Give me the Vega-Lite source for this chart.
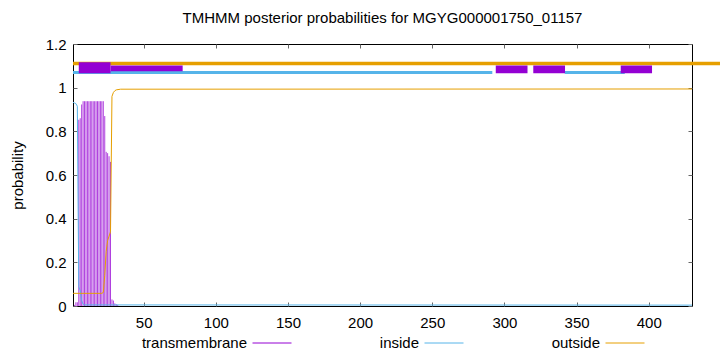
{
  "$schema": "https://vega.github.io/schema/vega-lite/v6.json",
  "width": 619,
  "height": 262,
  "autosize": "none",
  "padding": {"left": 73, "top": 44, "right": 28, "bottom": 46},
  "background": "white",
  "config": {
    "font": "Liberation Sans",
    "view": {"stroke": "black", "strokeWidth": 1},
    "axis": {"grid": false, "domain": false, "tickColor": "#666", "tickSize": -4, "labelFont": "Liberation Sans", "labelFontSize": 15, "labelColor": "black", "titleFont": "Liberation Sans", "titleFontSize": 15, "titleFontWeight": "normal", "titleColor": "black"},
    "legend": {"padding": 0, "labelFont": "Liberation Sans", "labelFontSize": 15, "labelColor": "black"}
  },
  "title": {"text": "TMHMM posterior probabilities for MGYG000001750_01157", "font": "Liberation Sans", "fontSize": 15, "fontWeight": "normal", "color": "black", "anchor": "middle", "offset": 11},
  "datasets": {
    "tm": [{"pos":2,"p":0.005},{"pos":3,"p":0.017},{"pos":4,"p":0.017},{"pos":5,"p":0.853},{"pos":6,"p":0.86},{"pos":7,"p":0.923},{"pos":8,"p":0.938},{"pos":9,"p":0.938},{"pos":10,"p":0.938},{"pos":11,"p":0.938},{"pos":12,"p":0.938},{"pos":13,"p":0.938},{"pos":14,"p":0.938},{"pos":15,"p":0.938},{"pos":16,"p":0.938},{"pos":17,"p":0.938},{"pos":18,"p":0.938},{"pos":19,"p":0.938},{"pos":20,"p":0.938},{"pos":21,"p":0.938},{"pos":22,"p":0.938},{"pos":23,"p":0.87},{"pos":24,"p":0.706},{"pos":25,"p":0.7},{"pos":26,"p":0.686},{"pos":27,"p":0.66},{"pos":28,"p":0.03},{"pos":29,"p":0.025},{"pos":30,"p":0.012},{"pos":31,"p":0.008},{"pos":32,"p":0.005}],
    "inside": [{"pos":1,"p":0.933},{"pos":2,"p":0.93},{"pos":3,"p":0.927},{"pos":4,"p":0.915},{"pos":5,"p":0.088},{"pos":6,"p":0.07},{"pos":7,"p":0.025},{"pos":8,"p":0.008},{"pos":9,"p":0.005},{"pos":430,"p":0.004}],
    "outside": [{"pos":1,"p":0.058},{"pos":21,"p":0.058},{"pos":22,"p":0.062},{"pos":23,"p":0.14},{"pos":24,"p":0.25},{"pos":25,"p":0.3},{"pos":26,"p":0.32},{"pos":27,"p":0.34},{"pos":28,"p":0.96},{"pos":29,"p":0.978},{"pos":30,"p":0.986},{"pos":31,"p":0.99},{"pos":34,"p":0.993},{"pos":430,"p":0.994}],
    "tm_top_a": [{"start":5,"end":27}],
    "tm_top_b": [{"start":27,"end":77}],
    "tm_top_c": [{"start":294,"end":316},{"start":320,"end":342},{"start":380.6,"end":402.3}],
    "in_top": [{"start":1,"end":291.6},{"start":341.8,"end":383.4}],
    "out_top": [{"start":1,"end":460}]
  },
  "resolve": {"axis": {"x": "independent", "y": "independent"}},
  "layer": [
    {
      "data": {"name": "out_top"},
      "mark": {"type": "rule", "color": "#E69F00", "strokeWidth": 3.5},
      "encoding": {
        "x": {"field": "start", "type": "quantitative", "scale": {"domain": [1, 430], "nice": false, "zero": false}, "axis": {"orient": "top", "values": [50,100,150,200,250,300,350,400], "labels": false, "title": null}},
        "x2": {"field": "end"},
        "y": {"datum": 1.111, "type": "quantitative", "scale": {"domain": [0, 1.2], "nice": false, "zero": true}, "axis": {"orient": "right", "values": [0,0.2,0.4,0.6,0.8,1,1.2], "labels": false, "title": null}}
      }
    },
    {
      "data": {"name": "in_top"},
      "mark": {"type": "rule", "color": "#56B4E9", "strokeWidth": 3},
      "encoding": {
        "x": {"field": "start", "type": "quantitative", "axis": null},
        "x2": {"field": "end"},
        "y": {"datum": 1.07, "type": "quantitative", "axis": null}
      }
    },
    {
      "data": {"name": "tm_top_b"},
      "mark": {"type": "rect", "color": "#9400D3"},
      "encoding": {
        "x": {"field": "start", "type": "quantitative", "axis": null},
        "x2": {"field": "end"},
        "y": {"datum": 1.075, "type": "quantitative", "axis": null},
        "y2": {"datum": 1.101}
      }
    },
    {
      "data": {"name": "tm_top_c"},
      "mark": {"type": "rect", "color": "#9400D3"},
      "encoding": {
        "x": {"field": "start", "type": "quantitative", "axis": null},
        "x2": {"field": "end"},
        "y": {"datum": 1.066, "type": "quantitative", "axis": null},
        "y2": {"datum": 1.101}
      }
    },
    {
      "data": {"name": "tm_top_a"},
      "mark": {"type": "rect", "color": "#9400D3"},
      "encoding": {
        "x": {"field": "start", "type": "quantitative", "axis": null},
        "x2": {"field": "end"},
        "y": {"datum": 1.066, "type": "quantitative", "axis": null},
        "y2": {"datum": 1.116}
      }
    },
    {
      "data": {"name": "tm"},
      "mark": {"type": "rule", "strokeWidth": 1, "opacity": 0.75},
      "encoding": {
        "x": {"field": "pos", "type": "quantitative", "axis": {"orient": "bottom", "values": [50,100,150,200,250,300,350,400], "title": null, "labelPadding": 13}},
        "y": {"field": "p", "type": "quantitative", "axis": {"orient": "left", "values": [0,0.2,0.4,0.6,0.8,1,1.2], "format": "~g", "title": "probability", "labelPadding": 11, "titlePadding": 20}},
        "y2": {"datum": 0},
        "color": {"datum": "transmembrane", "type": "nominal", "scale": {"domain": ["transmembrane", "inside", "outside"], "range": ["#9400D3", "#56B4E9", "#E69F00"]},
          "legend": {"title": null, "orient": "none", "legendX": 179, "legendY": 279, "direction": "horizontal", "columns": 3, "symbolType": "stroke", "symbolSize": 1521, "symbolStrokeWidth": 1, "symbolOpacity": 1, "labelAlign": "right", "labelOffset": -45, "columnPadding": 85}}
      }
    },
    {
      "data": {"name": "inside"},
      "mark": {"type": "line", "strokeWidth": 1},
      "encoding": {
        "x": {"field": "pos", "type": "quantitative", "axis": null},
        "y": {"field": "p", "type": "quantitative", "axis": null},
        "color": {"datum": "inside", "type": "nominal"}
      }
    },
    {
      "data": {"name": "outside"},
      "mark": {"type": "line", "strokeWidth": 1},
      "encoding": {
        "x": {"field": "pos", "type": "quantitative", "axis": null},
        "y": {"field": "p", "type": "quantitative", "axis": null},
        "color": {"datum": "outside", "type": "nominal"}
      }
    }
  ]
}
